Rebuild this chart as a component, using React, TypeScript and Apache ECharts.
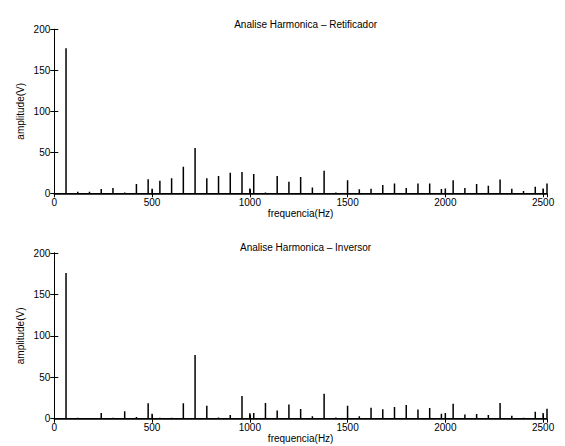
import React, { useEffect, useRef } from "react";
import * as echarts from "echarts";

const freqs = [
  60, 120, 180, 240, 300, 360, 420, 480, 500, 540, 600, 660, 720, 780, 840, 900, 960, 1000, 1020,
  1080, 1140, 1200, 1260, 1320, 1380, 1440, 1500, 1560, 1620, 1680, 1740, 1800, 1860, 1920, 1980,
  2000, 2040, 2100, 2160, 2220, 2280, 2340, 2400, 2460, 2500, 2520,
];

const retificador = [
  177, 2, 2, 5.3, 6.5, 1, 11.4, 17, 5.7, 15.4, 18.3, 32.5, 55.3, 18.3, 21, 25, 26, 6, 23.6,
  1, 21, 14, 20, 7, 27.6, 1, 16, 5, 5.7, 10, 11.8, 6.5, 11.8, 11.8, 5.3,
  6, 15.9, 6.5, 11.4, 9.3, 16.7, 5.7, 2.8, 8, 6, 11.8,
];

const inversor = [
  176, 1, 0.3, 7, 1, 9, 2, 18.5, 6, 1, 1, 18.5, 77, 15.7, 1.5, 4.5, 27.4, 6.5, 7,
  19, 10, 17, 11.7, 3, 30, 1.5, 15.7, 3, 13.3, 11.3, 14, 16.5, 11, 13, 6,
  7, 18, 5, 5.6, 4.5, 19, 3.6, 1, 8.5, 7, 12,
];

const titles = ["Analise Harmonica \u2013 Retificador", "Analise Harmonica \u2013 Inversor"];
const xTicks = { min: 0, max: 2520, interval: 500 };
const yTicks = { min: 0, max: 200, interval: 50 };

const FONT = "'Liberation Sans', Arial, Helvetica, sans-serif";

export default function App() {
  const ref = useRef<HTMLDivElement>(null);
  useEffect(() => {
    if (!ref.current) return;
    const chart = echarts.init(ref.current, null, { renderer: "svg" });
    const grids = [
      { left: 54.3, right: 18, top: 29.3, height: 164 },
      { left: 54.3, right: 18, top: 253, height: 165.7 },
    ];
    const xAxes: any[] = [];
    const yAxes: any[] = [];
    const series: any[] = [];
    const datasets = [retificador, inversor];
    const fmt = (v: number) => String(v);
    grids.forEach((_, gi) => {
      xAxes.push({
        type: "value",
        gridIndex: gi,
        position: "bottom",
        ...xTicks,
        name: "frequencia(Hz)",
        nameLocation: "middle",
        nameGap: 15,
        nameMoveOverlap: false,
        nameTextStyle: { color: "#000", fontSize: 10, fontFamily: FONT },
        axisLine: { show: true, lineStyle: { color: "#000", width: 1.5 } },
        axisTick: { show: true, inside: true, length: 4, lineStyle: { color: "#000" } },
        axisLabel: {
          color: "#000",
          fontSize: 10,
          fontFamily: FONT,
          margin: 4,
          showMaxLabel: false,
          formatter: fmt,
        },
        splitLine: { show: false },
      });
      xAxes.push({
        type: "value",
        gridIndex: gi,
        position: "top",
        ...xTicks,
        axisLine: { show: true, lineStyle: { color: "#000", width: 1 } },
        axisTick: { show: true, inside: true, length: 4, lineStyle: { color: "#000" } },
        axisLabel: { show: false },
        splitLine: { show: false },
      });
      yAxes.push({
        type: "value",
        gridIndex: gi,
        position: "left",
        ...yTicks,
        name: "amplitude(V)",
        nameLocation: "middle",
        nameGap: 29,
        nameMoveOverlap: false,
        nameTextStyle: { color: "#000", fontSize: 10, fontFamily: FONT },
        axisLine: { show: true, lineStyle: { color: "#000", width: 1 } },
        axisTick: { show: true, inside: true, length: 4, lineStyle: { color: "#000" } },
        axisLabel: { color: "#000", fontSize: 10, fontFamily: FONT, margin: 4, formatter: fmt },
        splitLine: { show: false },
      });
      yAxes.push({
        type: "value",
        gridIndex: gi,
        position: "right",
        ...yTicks,
        axisLine: { show: true, lineStyle: { color: "#000", width: 1 } },
        axisTick: { show: true, inside: true, length: 4, lineStyle: { color: "#000" } },
        axisLabel: { show: false },
        splitLine: { show: false },
      });
      series.push({
        type: "custom",
        xAxisIndex: gi * 2,
        yAxisIndex: gi * 2,
        data: freqs.map((f, i) => [f, datasets[gi][i]]),
        encode: { x: 0, y: 1 },
        clip: true,
        renderItem: (params: any, api: any) => {
          const x = api.value(0);
          const y = api.value(1);
          const p0 = api.coord([x, 0]);
          const p1 = api.coord([x, y]);
          return {
            type: "line",
            shape: { x1: p0[0], y1: p0[1], x2: p1[0], y2: p1[1] },
            style: { stroke: "#000", lineWidth: 1.5 },
          };
        },
      });
    });
    chart.setOption({
      animation: false,
      backgroundColor: "#fff",
      title: titles.map((t, i) => ({
        text: t,
        left: 300.6,
        top: i === 0 ? 14 : 237,
        textAlign: "center",
        textStyle: { color: "#000", fontSize: 10, fontWeight: "normal", fontFamily: FONT },
      })),
      grid: grids,
      xAxis: xAxes,
      yAxis: yAxes,
      series,
    });
    return () => chart.dispose();
  }, []);
  return (
    <div
      ref={ref}
      style={{ position: "fixed", left: 0, top: 0, width: 565, height: 446, background: "#fff" }}
    />
  );
}
